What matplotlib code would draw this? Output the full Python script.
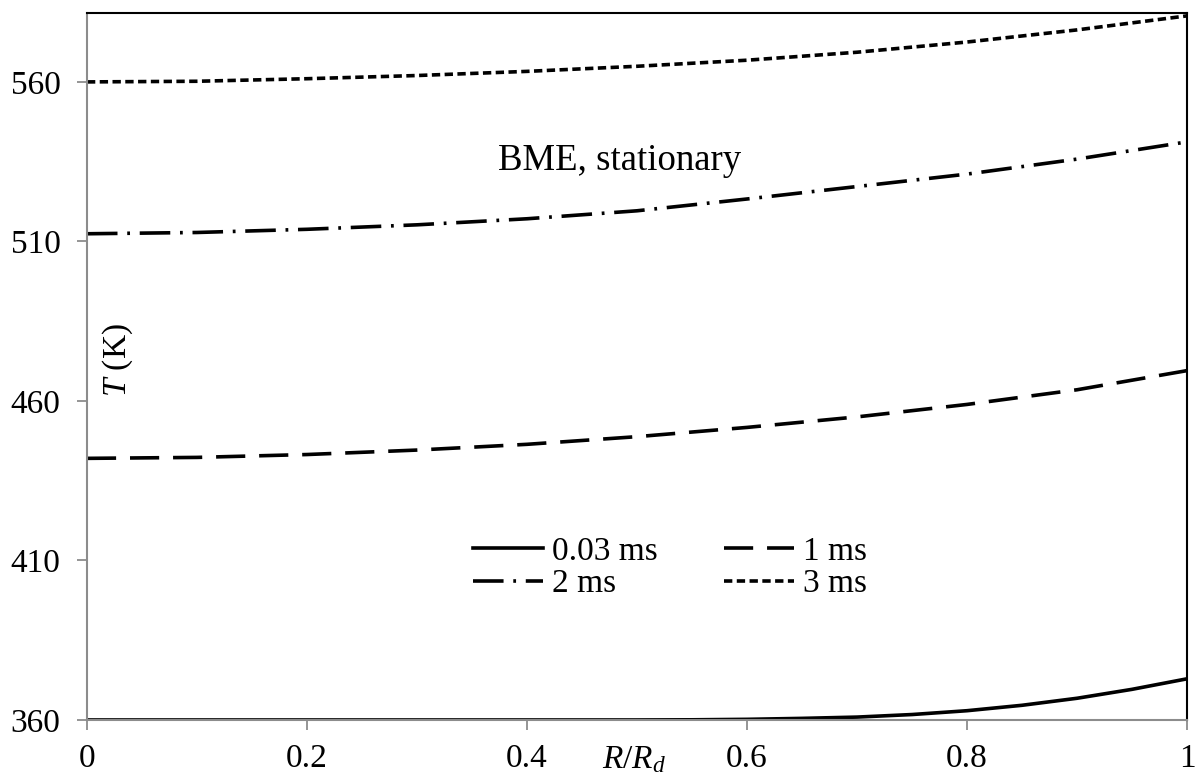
import matplotlib
matplotlib.use("Agg")
import matplotlib.pyplot as plt

# ---------------------------- data ----------------------------
r_grid = [0.0, 0.1, 0.2, 0.3, 0.4, 0.5, 0.6, 0.7, 0.8, 0.9, 1.0]
r_fine = [0.0, 0.1, 0.2, 0.3, 0.4, 0.5, 0.55, 0.6, 0.65, 0.7, 0.75, 0.8, 0.85, 0.9, 0.95, 1.0]

T_003ms = [360.0, 360.0, 360.0, 360.0, 360.0, 360.0, 360.05, 360.2, 360.5, 360.9,
           361.7, 362.9, 364.6, 366.8, 369.6, 372.9]
T_1ms = [442.0, 442.3, 443.2, 444.6, 446.4, 448.8, 451.7, 455.0, 458.9, 463.5, 469.5]
T_2ms = [512.4, 512.8, 513.8, 515.2, 517.1, 519.6, 523.3, 527.2, 531.1, 535.8, 541.2]
T_3ms = [560.0, 560.2, 561.0, 562.0, 563.3, 564.9, 566.8, 569.3, 572.5, 576.3, 580.7]

labels = ["0.03 ms", "1 ms", "2 ms", "3 ms"]
x_ticks = [0, 0.2, 0.4, 0.6, 0.8, 1]
y_ticks = [360, 410, 460, 510, 560]

# ---------------------------- style ----------------------------
plt.rcParams["font.family"] = ["Liberation Serif", "DejaVu Serif"]
plt.rcParams["mathtext.fontset"] = "custom"
plt.rcParams["mathtext.rm"] = "Liberation Serif"
plt.rcParams["mathtext.it"] = "Liberation Serif:italic"
plt.rcParams["lines.scale_dashes"] = False

gray = "#8c8c8c"
lw = 2.6
fs = 24

fig = plt.figure(figsize=(11.96, 7.78), dpi=100)
ax = fig.add_axes([0.0727, 0.0746, 0.9198, 0.9087])

l0, = ax.plot(r_fine, T_003ms, color="black", lw=lw, label=labels[0])
l1, = ax.plot(r_grid, T_1ms, color="black", lw=lw, dashes=(21, 10), label=labels[1])
l2, = ax.plot(r_grid, T_2ms, color="black", lw=lw, dashes=(22, 7, 2, 7), label=labels[2])
l3, = ax.plot(r_grid, T_3ms, color="black", lw=lw, dashes=(6, 3.2), label=labels[3])

ax.set_xlim(0, 1)
ax.set_ylim(360, 581.6)
ax.set_xticks(x_ticks)
ax.set_xticklabels(["0", "0.2", "0.4", "0.6", "0.8", "1"])
ax.set_yticks(y_ticks)

for side in ["left", "bottom"]:
    ax.spines[side].set_color(gray)
    ax.spines[side].set_linewidth(1.5)
for side in ["top", "right"]:
    ax.spines[side].set_color("black")
    ax.spines[side].set_linewidth(1.5)

ax.tick_params(axis="both", direction="out", length=7, width=1.3, color=gray,
               labelsize=fs, labelcolor="black")
ax.tick_params(axis="y", pad=12)
ax.tick_params(axis="x", pad=10)

# axis titles sit inside / between the tick labels like the original
ax.text(0.028, 0.509, "$T$ (K)", transform=ax.transAxes, rotation=90,
        ha="center", va="center", fontsize=fs)
ax.text(0.497, -0.034, "$R/R_d$", transform=ax.transAxes,
        ha="center", va="top", fontsize=fs)

ax.text(0.4845, 0.791, "BME, stationary", transform=ax.transAxes,
        ha="center", va="center", fontsize=26.5)

# row-wise order: 0.03 ms, 1 ms / 2 ms, 3 ms
ax.legend([l0, l2, l1, l3], [labels[0], labels[2], labels[1], labels[3]],
          ncol=2, loc="center", bbox_to_anchor=(0.530, 0.215), frameon=False,
          fontsize=fs, handlelength=2.1, handletextpad=0.25, columnspacing=2.0,
          labelspacing=0.06, borderpad=0, borderaxespad=0)

fig.savefig("out.png", dpi=100)
